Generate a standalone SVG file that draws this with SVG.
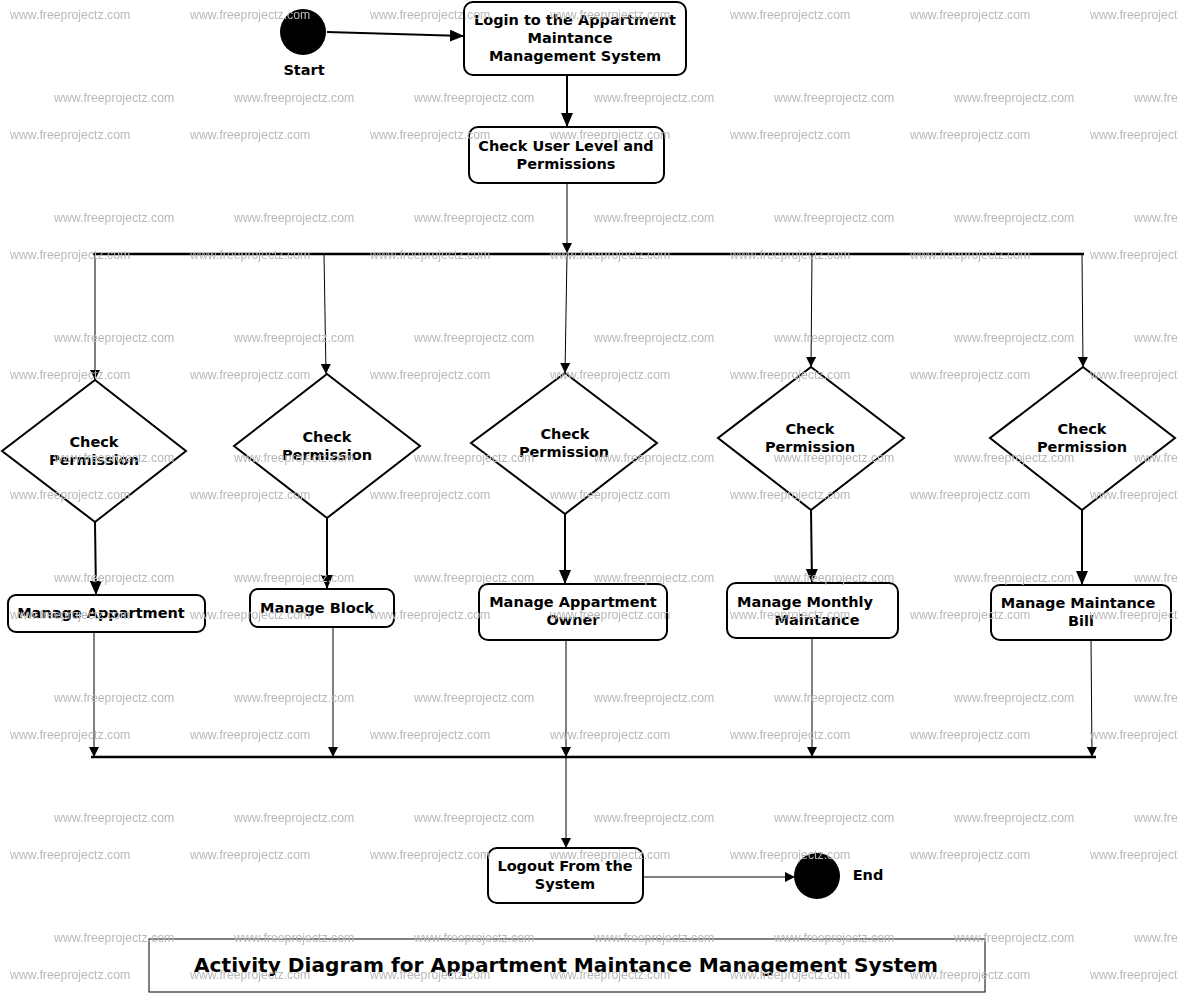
<svg xmlns="http://www.w3.org/2000/svg" width="1178" height="994" viewBox="0 0 1178 994">
<defs>
<style>
.box{fill:#fff;stroke:#000;stroke-width:2}
.dia{fill:#fff;stroke:#000;stroke-width:2}
.lbl{font-family:"DejaVu Sans",sans-serif;font-weight:bold;font-size:14.5px;fill:#000;text-anchor:middle}
.thin{stroke:#000;stroke-width:1;fill:none}
.thick{stroke:#000;stroke-width:2;fill:none}
.bar{stroke:#000;stroke-width:2.5;fill:none}
.wm{font-family:"Liberation Sans",Arial,sans-serif;font-size:12.3px;fill:#b8b8b8}
</style>
<marker id="ah" markerWidth="10" markerHeight="10" refX="10" refY="5" orient="auto" markerUnits="userSpaceOnUse">
<path d="M0,0 L10,5 L0,10 Z" fill="#000"/>
</marker>
<marker id="ahb" markerWidth="14" markerHeight="12" refX="14" refY="6" orient="auto" markerUnits="userSpaceOnUse">
<path d="M0,0 L14,6 L0,12 Z" fill="#000"/>
</marker>
<pattern id="wmp" patternUnits="userSpaceOnUse" x="0" y="0" width="180" height="120">
<text class="wm" x="10" y="19">www.freeprojectz.com</text>
<text class="wm" x="54" y="102">www.freeprojectz.com</text>
</pattern>
</defs>
<rect width="1178" height="994" fill="#fff"/>

<g id="connectors">
<line class="thick" x1="327" y1="32" x2="464" y2="36" marker-end="url(#ahb)"/>
<line class="thick" x1="567" y1="52" x2="567" y2="127" marker-end="url(#ahb)"/>
<line class="thin" x1="567" y1="183" x2="567" y2="253" marker-end="url(#ah)"/>
<line class="bar" x1="93" y1="254" x2="1084" y2="254"/>
<line class="thin" x1="95" y1="254" x2="95" y2="380" marker-end="url(#ah)"/>
<line class="thin" x1="324" y1="254" x2="326" y2="374" marker-end="url(#ah)"/>
<line class="thin" x1="567" y1="254" x2="565" y2="373" marker-end="url(#ah)"/>
<line class="thin" x1="812" y1="254" x2="811" y2="367" marker-end="url(#ah)"/>
<line class="thin" x1="1082" y1="254" x2="1083" y2="367" marker-end="url(#ah)"/>
<line class="thick" x1="95" y1="522" x2="96" y2="595" marker-end="url(#ahb)"/>
<line class="thick" x1="327" y1="518" x2="327" y2="589" marker-end="url(#ahb)"/>
<line class="thick" x1="565" y1="514" x2="565" y2="584" marker-end="url(#ahb)"/>
<line class="thick" x1="811" y1="510" x2="812" y2="583" marker-end="url(#ahb)"/>
<line class="thick" x1="1082" y1="510" x2="1082" y2="585" marker-end="url(#ahb)"/>
<line class="thin" x1="94" y1="632" x2="94" y2="757" marker-end="url(#ah)"/>
<line class="thin" x1="333" y1="627" x2="333" y2="757" marker-end="url(#ah)"/>
<line class="thin" x1="566" y1="640" x2="566" y2="757" marker-end="url(#ah)"/>
<line class="thin" x1="812" y1="638" x2="812" y2="757" marker-end="url(#ah)"/>
<line class="thin" x1="1091" y1="640" x2="1092" y2="757" marker-end="url(#ah)"/>
<line class="bar" x1="91" y1="757" x2="1096" y2="757"/>
<line class="thin" x1="566" y1="757" x2="566" y2="848" marker-end="url(#ah)"/>
<line class="thin" x1="643" y1="877" x2="795" y2="877" marker-end="url(#ah)"/>
</g>

<g id="start">
<circle cx="303" cy="32" r="23" fill="#000"/>
<text class="lbl" x="304" y="75">Start</text>
</g>

<g id="login">
<rect class="box" x="464" y="2" width="222" height="73" rx="9"/>
<text class="lbl" x="575" y="25">Login to the Appartment</text>
<text class="lbl" x="570" y="43">Maintance</text>
<text class="lbl" x="575" y="61">Management System</text>
</g>

<g id="checkuser">
<rect class="box" x="469" y="127" width="195" height="56" rx="9"/>
<text class="lbl" x="566" y="151">Check User Level and</text>
<text class="lbl" x="566" y="169">Permissions</text>
</g>

<g id="perm1">
<polygon class="dia" points="95,380 186,451 95,522 2,451"/>
<text class="lbl" x="94" y="447">Check</text>
<text class="lbl" x="94" y="465">Permission</text>
</g>
<g id="perm2">
<polygon class="dia" points="327,374 420,446 327,518 234,446"/>
<text class="lbl" x="327" y="442">Check</text>
<text class="lbl" x="327" y="460">Permission</text>
</g>
<g id="perm3">
<polygon class="dia" points="565,373 657,443 565,514 471,443"/>
<text class="lbl" x="565" y="439">Check</text>
<text class="lbl" x="564" y="457">Permission</text>
</g>
<g id="perm4">
<polygon class="dia" points="811,367 904,438 811,510 718,438"/>
<text class="lbl" x="810" y="434">Check</text>
<text class="lbl" x="810" y="452">Permission</text>
</g>
<g id="perm5">
<polygon class="dia" points="1083,367 1175,438 1082,510 990,438"/>
<text class="lbl" x="1082" y="434">Check</text>
<text class="lbl" x="1082" y="452">Permission</text>
</g>

<g id="manageAppartment">
<rect class="box" x="8" y="595" width="197" height="37" rx="8"/>
<text class="lbl" x="101" y="618">Manage Appartment</text>
</g>
<g id="manageBlock">
<rect class="box" x="250" y="589" width="144" height="38" rx="8"/>
<text class="lbl" x="317" y="613">Manage Block</text>
</g>
<g id="manageOwner">
<rect class="box" x="479" y="584" width="188" height="56" rx="9"/>
<text class="lbl" x="573" y="607">Manage Appartment</text>
<text class="lbl" x="573" y="625">Owner</text>
</g>
<g id="manageMonthly">
<rect class="box" x="727" y="583" width="171" height="55" rx="9"/>
<text class="lbl" x="805" y="607">Manage Monthly</text>
<text class="lbl" x="817" y="625">Maintance</text>
</g>
<g id="manageBill">
<rect class="box" x="991" y="585" width="180" height="55" rx="9"/>
<text class="lbl" x="1078" y="608">Manage Maintance</text>
<text class="lbl" x="1081" y="626">Bill</text>
</g>

<g id="logout">
<rect class="box" x="488" y="848" width="155" height="55" rx="9"/>
<text class="lbl" x="565" y="871">Logout From the</text>
<text class="lbl" x="565" y="889">System</text>
</g>

<g id="end">
<circle cx="817" cy="876" r="23" fill="#000"/>
<text class="lbl" x="868" y="880">End</text>
</g>

<g id="title">
<rect x="149" y="939" width="836" height="53" fill="#fff" stroke="#000" stroke-width="1"/>
<text x="566" y="972" font-family="DejaVu Sans, sans-serif" font-weight="bold" font-size="20" text-anchor="middle" textLength="744" lengthAdjust="spacingAndGlyphs">Activity Diagram for Appartment Maintance Management System</text>
</g>

<rect id="watermark" width="1178" height="994" fill="url(#wmp)" pointer-events="none"/>
</svg>
